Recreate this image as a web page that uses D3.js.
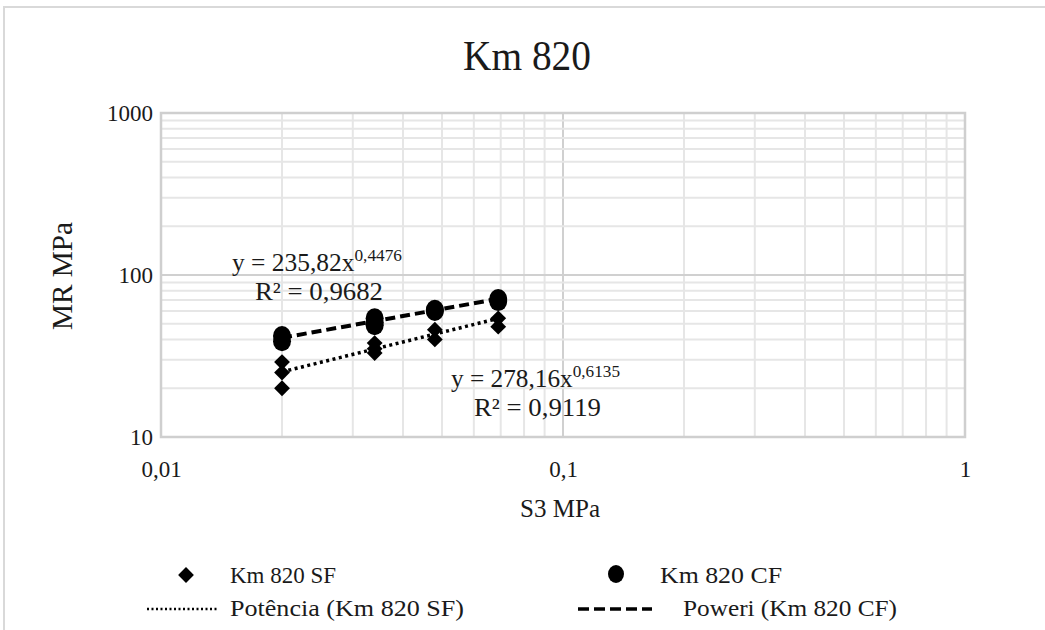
<!DOCTYPE html>
<html>
<head>
<meta charset="utf-8">
<script src="https://cdn.jsdelivr.net/npm/d3@7"></script>
<style>
  html, body { margin: 0; padding: 0; background: #fff; }
  svg { display: block; }
  text { font-family: "Liberation Serif", "Times New Roman", serif; fill: #1a1a1a; }
</style>
</head>
<body>
<svg width="1045" height="630"></svg>
<script>
// confining stress (S3, MPa) and resilient modulus (MR, MPa)
const sfS3 = [0.02, 0.02, 0.02, 0.034, 0.034, 0.034, 0.048, 0.048, 0.069, 0.069];
const sfMR = [29, 25, 20, 38, 35, 33, 46, 40, 54, 48];
const cfS3 = [0.02, 0.02, 0.034, 0.034, 0.034, 0.048, 0.048, 0.069, 0.069];
const cfMR = [42, 39, 54, 51, 49, 61, 60, 71, 69];

// power fits y = a * x^b
const sfFit = [278.16, 0.6135];
const cfFit = [235.82, 0.4476];
const fitRange = [0.02, 0.034, 0.048, 0.069];

const xTicks = [0.01, 0.1, 1];
const yTicks = [10, 100, 1000];

const svg = d3.select('svg');

const x = d3.scaleLog().domain([0.01, 1]).range([161, 965]);
const y = d3.scaleLog().domain([10, 1000]).range([437, 113]);

const locale = d3.formatLocale({decimal: ',', thousands: '.', grouping: [3], currency: ['', '']});
const fmt = locale.format('~g');

// outer frame
svg.append('rect')
  .attr('x', 4).attr('y', 7)
  .attr('width', 1100).attr('height', 700)
  .attr('fill', 'none')
  .attr('stroke', '#d9d9d9')
  .attr('stroke-width', 2);

// title
svg.append('text')
  .attr('x', 527).attr('y', 70)
  .attr('text-anchor', 'middle')
  .attr('font-size', 42)
  .attr('textLength', 128)
  .attr('lengthAdjust', 'spacingAndGlyphs')
  .text('Km 820');

// grid
const grid = svg.append('g');
const isMajor = (v) => Math.abs(Math.log10(v) - Math.round(Math.log10(v))) < 1e-9;

grid.selectAll('line.gx')
  .data(x.ticks())
  .enter()
  .append('line')
  .attr('x1', (d) => x(d)).attr('x2', (d) => x(d))
  .attr('y1', y.range()[1]).attr('y2', y.range()[0])
  .attr('stroke', (d) => (isMajor(d) ? '#d0d0d0' : '#e6e6e6'))
  .attr('stroke-width', 2);

grid.selectAll('line.gy')
  .data(y.ticks())
  .enter()
  .append('line')
  .attr('x1', x.range()[0]).attr('x2', x.range()[1])
  .attr('y1', (d) => y(d)).attr('y2', (d) => y(d))
  .attr('stroke', (d) => (isMajor(d) ? '#d0d0d0' : '#e6e6e6'))
  .attr('stroke-width', 2);

// plot border
svg.append('rect')
  .attr('x', x.range()[0]).attr('y', y.range()[1])
  .attr('width', x.range()[1] - x.range()[0])
  .attr('height', y.range()[0] - y.range()[1])
  .attr('fill', 'none')
  .attr('stroke', '#cfcfcf')
  .attr('stroke-width', 2.5);

// axes (labels only)
const xAxis = svg.append('g')
  .attr('transform', `translate(0,${y.range()[0]})`)
  .call(d3.axisBottom(x).tickValues(xTicks).tickSize(0).tickPadding(24).tickFormat(fmt));
const yAxis = svg.append('g')
  .attr('transform', `translate(${x.range()[0]},0)`)
  .call(d3.axisLeft(y).tickValues(yTicks).tickSize(0).tickPadding(8).tickFormat(fmt));
[xAxis, yAxis].forEach((g) => {
  g.select('.domain').remove();
  g.selectAll('text')
    .attr('font-family', '"Liberation Serif", serif')
    .attr('font-size', 23)
    .attr('fill', '#333');
});

// axis titles
svg.append('text')
  .attr('x', 560).attr('y', 517)
  .attr('text-anchor', 'middle')
  .attr('font-size', 26)
  .attr('textLength', 80)
  .attr('lengthAdjust', 'spacingAndGlyphs')
  .text('S3 MPa');
svg.append('text')
  .attr('transform', 'translate(72,276) rotate(-90)')
  .attr('text-anchor', 'middle')
  .attr('font-size', 29)
  .attr('textLength', 108)
  .attr('lengthAdjust', 'spacingAndGlyphs')
  .text('MR MPa');

// trend lines
const fitLine = (fit) => d3.line()
  .x((d) => x(d))
  .y((d) => y(fit[0] * Math.pow(d, fit[1])));

svg.append('path')
  .attr('d', fitLine(sfFit)(fitRange))
  .attr('fill', 'none')
  .attr('stroke', '#000')
  .attr('stroke-width', 3.5)
  .attr('stroke-dasharray', '3,3.5');

svg.append('path')
  .attr('d', fitLine(cfFit)(fitRange))
  .attr('fill', 'none')
  .attr('stroke', '#000')
  .attr('stroke-width', 4)
  .attr('stroke-dasharray', '10,5');

// markers
const diamond = d3.symbol().type(d3.symbolSquare).size(125);

svg.append('g')
  .selectAll('path')
  .data(d3.zip(sfS3, sfMR))
  .enter()
  .append('path')
  .attr('d', diamond)
  .attr('transform', (d) => `translate(${x(d[0])},${y(d[1])}) rotate(45)`)
  .attr('fill', '#000');

svg.append('g')
  .selectAll('ellipse')
  .data(d3.zip(cfS3, cfMR))
  .enter()
  .append('ellipse')
  .attr('cx', (d) => x(d[0]))
  .attr('cy', (d) => y(d[1]))
  .attr('rx', 9)
  .attr('ry', 10)
  .attr('fill', '#000');

// equation labels
const eq = (px, py, fit, r2, w1, w2) => {
  const t = svg.append('text')
    .attr('x', px).attr('y', py)
    .attr('font-size', 25)
    .attr('textLength', w1)
    .attr('lengthAdjust', 'spacingAndGlyphs');
  t.append('tspan').text(`y = ${fmt(fit[0])}x`);
  t.append('tspan').attr('dy', -10).attr('font-size', 17).text(fmt(fit[1]));
  svg.append('text')
    .attr('x', px + 23).attr('y', py + 29)
    .attr('font-size', 25)
    .attr('textLength', w2)
    .attr('lengthAdjust', 'spacingAndGlyphs')
    .text(`R² = ${r2}`);
};
eq(232, 271, cfFit, '0,9682', 170, 128);
eq(451, 387, sfFit, '0,9119', 169, 127);

// legend
const legend = svg.append('g');
legend.append('path')
  .attr('d', diamond)
  .attr('transform', 'translate(186,575) rotate(45)');
legend.append('ellipse')
  .attr('cx', 616).attr('cy', 574).attr('rx', 8).attr('ry', 9);
legend.append('line')
  .attr('x1', 147).attr('x2', 219).attr('y1', 609).attr('y2', 609)
  .attr('stroke', '#000').attr('stroke-width', 2.5).attr('stroke-dasharray', '2,2.5');
legend.append('line')
  .attr('x1', 578).attr('x2', 652).attr('y1', 609).attr('y2', 609)
  .attr('stroke', '#000').attr('stroke-width', 3.5).attr('stroke-dasharray', '11,5');

const legendText = [
  ['Km 820 SF', 230, 583, 106],
  ['Km 820 CF', 660, 583, 122],
  ['Potência (Km 820 SF)', 230, 616, 234],
  ['Poweri (Km 820 CF)', 683, 616, 214],
];
legend.selectAll('text')
  .data(legendText)
  .enter()
  .append('text')
  .attr('x', (d) => d[1]).attr('y', (d) => d[2])
  .attr('font-size', 24)
  .attr('textLength', (d) => d[3])
  .attr('lengthAdjust', 'spacingAndGlyphs')
  .text((d) => d[0]);
</script>
</body>
</html>
